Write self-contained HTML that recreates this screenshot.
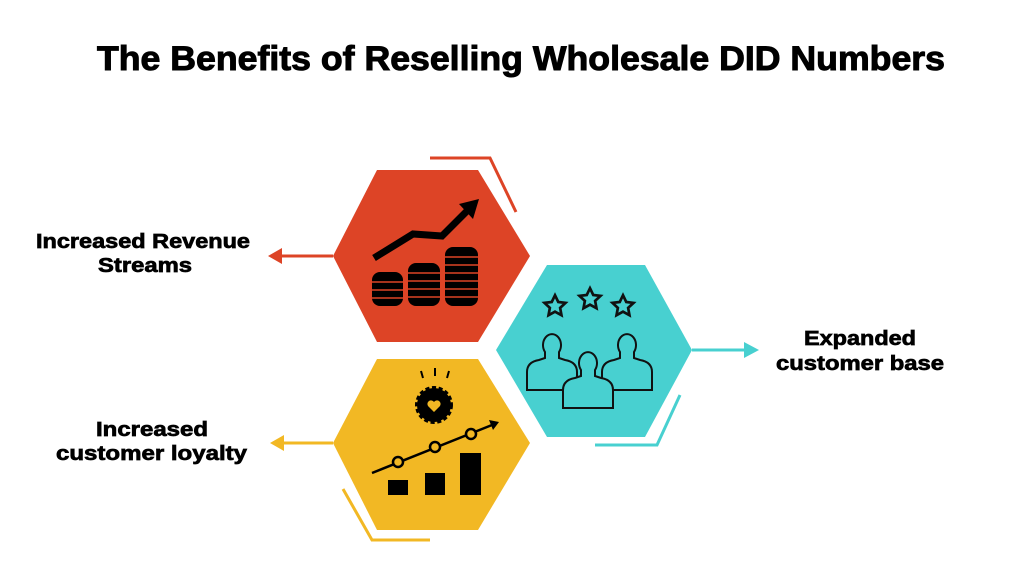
<!DOCTYPE html>
<html><head><meta charset="utf-8"><style>
html,body{margin:0;padding:0;background:#fff;}
svg{display:block;}
text{font-family:"Liberation Sans",sans-serif;font-weight:bold;fill:#000;stroke:#000;stroke-width:0.7;}
</style></head><body>
<svg width="1024" height="576" viewBox="0 0 1024 576" xmlns="http://www.w3.org/2000/svg">
<text x="97" y="70" font-size="34" textLength="848" lengthAdjust="spacingAndGlyphs" style="stroke-width:1">The Benefits of Reselling Wholesale DID Numbers</text>

<!-- labels -->
<text x="36" y="248" font-size="20" textLength="214" lengthAdjust="spacingAndGlyphs">Increased Revenue</text>
<text x="98" y="272" font-size="20" textLength="94" lengthAdjust="spacingAndGlyphs">Streams</text>
<text x="804" y="345" font-size="20" textLength="112" lengthAdjust="spacingAndGlyphs">Expanded</text>
<text x="776" y="370" font-size="20" textLength="168" lengthAdjust="spacingAndGlyphs">customer base</text>
<text x="96" y="436" font-size="20" textLength="112" lengthAdjust="spacingAndGlyphs">Increased</text>
<text x="56" y="460" font-size="20" textLength="191" lengthAdjust="spacingAndGlyphs">customer loyalty</text>

<!-- red -->
<polyline points="430,158 490,158 516,212" fill="none" stroke="#dd4426" stroke-width="3"/>
<line x1="333" y1="256" x2="278" y2="256" stroke="#dd4426" stroke-width="3"/>
<polygon points="268,256 282,248 282,264" fill="#dd4426"/>
<polygon points="333,256 377,170 478,170 530,256 478,342 377,342" fill="#dd4426"/>
<!-- coins -->
<g fill="#000">
<rect x="372" y="272" width="31" height="34" rx="8"/>
<rect x="408" y="263" width="32" height="43" rx="8"/>
<rect x="445" y="247" width="33" height="59" rx="8"/>
</g>
<g stroke="#dd4426" stroke-width="1.5">
<line x1="372" y1="282" x2="403" y2="282"/><line x1="372" y1="290" x2="403" y2="290"/><line x1="372" y1="298" x2="403" y2="298"/>
<line x1="408" y1="273" x2="440" y2="273"/><line x1="408" y1="281" x2="440" y2="281"/><line x1="408" y1="289" x2="440" y2="289"/><line x1="408" y1="297" x2="440" y2="297"/>
<line x1="445" y1="257" x2="478" y2="257"/><line x1="445" y1="265" x2="478" y2="265"/><line x1="445" y1="273" x2="478" y2="273"/><line x1="445" y1="281" x2="478" y2="281"/><line x1="445" y1="289" x2="478" y2="289"/><line x1="445" y1="297" x2="478" y2="297"/>
</g>
<polyline points="374,258 413,234 442,236 468,210" fill="none" stroke="#000" stroke-width="7"/>
<polygon points="479,199 459,204 473,219" fill="#000"/>

<!-- teal -->
<polyline points="680,395 657,445 595,445" fill="none" stroke="#48d0d0" stroke-width="3"/>
<line x1="692" y1="350" x2="748" y2="350" stroke="#48d0d0" stroke-width="3"/>
<polygon points="759,350 744,342 744,358" fill="#48d0d0"/>
<polygon points="496,350 547,265 645,265 692,350 645,437 547,437" fill="#48d0d0"/>
<g fill="none" stroke="#111" stroke-width="2">
<path transform="translate(555,306) scale(1.35) translate(-555,-306)" d="M555,298 l2.4,5 5.4,.7 -4,3.7 1,5.4 -4.8,-2.6 -4.8,2.6 1,-5.4 -4,-3.7 5.4,-.7z"/>
<path transform="translate(590,299) scale(1.35) translate(-590,-299)" d="M590,291 l2.4,5 5.4,.7 -4,3.7 1,5.4 -4.8,-2.6 -4.8,2.6 1,-5.4 -4,-3.7 5.4,-.7z"/>
<path transform="translate(623,306) scale(1.35) translate(-623,-306)" d="M623,298 l2.4,5 5.4,.7 -4,3.7 1,5.4 -4.8,-2.6 -4.8,2.6 1,-5.4 -4,-3.7 5.4,-.7z"/>
<path d="M527,390 v-18 q0,-10 12,-12 l6,-2 v-6 a9,11 0 1 1 14,0 v6 l6,2 q12,2 12,12 v18z" fill="#48d0d0"/>
<path d="M602,390 v-18 q0,-10 12,-12 l6,-2 v-6 a9,11 0 1 1 14,0 v6 l6,2 q12,2 12,12 v18z" fill="#48d0d0"/>
<path d="M563,408 v-18 q0,-10 12,-12 l6,-2 v-6 a9,11 0 1 1 14,0 v6 l6,2 q12,2 12,12 v18z" fill="#48d0d0"/>
</g>

<!-- yellow -->
<polyline points="343,489 372,540 430,540" fill="none" stroke="#f2b824" stroke-width="3"/>
<line x1="333" y1="443" x2="280" y2="443" stroke="#f2b824" stroke-width="3"/>
<polygon points="270,443 284,435 284,451" fill="#f2b824"/>
<polygon points="333,443 377,359 478,359 530,443 478,530 377,530" fill="#f2b824"/>
<g stroke="#000" stroke-width="2">
<line x1="421" y1="371" x2="423" y2="378"/><line x1="435" y1="368" x2="435" y2="376"/><line x1="449" y1="371" x2="447" y2="378"/>
</g>
<circle cx="434" cy="405" r="17" fill="#000" stroke="#000" stroke-width="4" stroke-dasharray="4 2.5"/>
<path d="M434,412 l-6,-6 a3.5,3.5 0 0 1 6,-4 a3.5,3.5 0 0 1 6,4z" fill="#f2b824"/>
<line x1="372" y1="473" x2="492" y2="425" stroke="#000" stroke-width="2.5"/>
<polygon points="499,422 489,420 493,430" fill="#000"/>
<g fill="#f2b824" stroke="#000" stroke-width="2.5">
<circle cx="398" cy="462" r="5"/><circle cx="435" cy="447" r="5"/><circle cx="471" cy="434" r="5"/>
</g>
<g fill="#000">
<rect x="388" y="480" width="20" height="15"/><rect x="425" y="473" width="20" height="22"/><rect x="460" y="453" width="21" height="42"/>
</g>
</svg>
</body></html>
